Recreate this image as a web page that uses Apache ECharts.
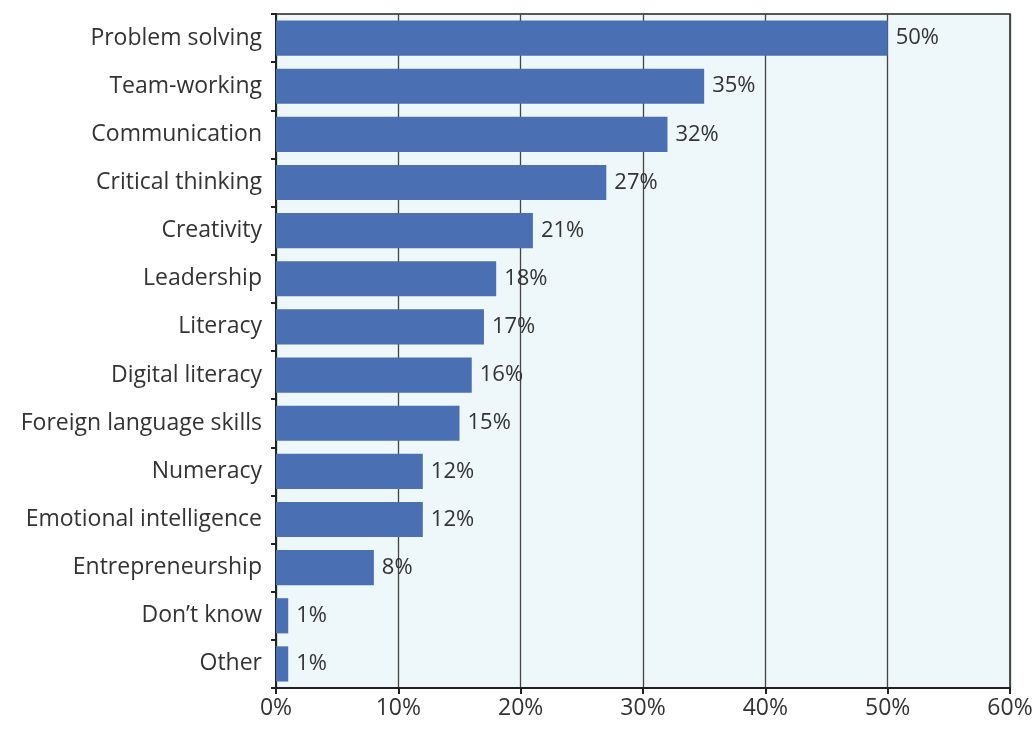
<!DOCTYPE html>
<html>
<head>
<meta charset="utf-8">
<script src="https://cdn.jsdelivr.net/npm/echarts@6/dist/echarts.min.js"></script>
<style>
  html, body { margin: 0; padding: 0; background: #ffffff; }
  #main { width: 1036px; height: 729px; }
</style>
</head>
<body>
<div id="main"></div>
<script>
// skills, top to bottom as shown
var skills = ['Problem solving', 'Team-working', 'Communication', 'Critical thinking',
    'Creativity', 'Leadership', 'Literacy', 'Digital literacy', 'Foreign language skills',
    'Numeracy', 'Emotional intelligence', 'Entrepreneurship', 'Don\u2019t know', 'Other'];
var shares = [50, 35, 32, 27, 21, 18, 17, 16, 15, 12, 12, 8, 1, 1];
var xTicks = [0, 10, 20, 30, 40, 50, 60];

var font = '"Open Sans", Lato, sans-serif';
var myChart = echarts.init(document.getElementById('main'));
var option = {
    backgroundColor: '#ffffff',
    animation: false,
    grid: {
        left: 276, right: 26, top: 14, bottom: 41,
        show: true,
        backgroundColor: '#eef7fa',
        borderColor: '#222222',
        borderWidth: 1.5
    },
    xAxis: {
        type: 'value',
        min: xTicks[0],
        max: xTicks[xTicks.length - 1],
        interval: 10,
        axisLine: { show: true, lineStyle: { color: '#222', width: 2 } },
        axisTick: { show: true, length: 6, lineStyle: { color: '#222', width: 2 } },
        splitLine: { show: true, lineStyle: { color: '#444', width: 1.3 } },
        axisLabel: {
            formatter: '{value}%',
            color: '#333',
            fontFamily: font,
            fontSize: 23,
            margin: 9
        }
    },
    yAxis: {
        type: 'category',
        inverse: true,
        data: skills,
        axisLine: { show: true, lineStyle: { color: '#222', width: 2 } },
        axisTick: { show: true, length: 5, lineStyle: { color: '#222', width: 2 } },
        axisLabel: {
            color: '#333',
            fontFamily: font,
            fontSize: 23,
            margin: 14,
            padding: [4, 0, 0, 0]
        }
    },
    series: [{
        type: 'bar',
        data: shares,
        barCategoryGap: '27%',
        itemStyle: { color: '#4a6fb2' },
        label: {
            show: true,
            position: 'right',
            distance: 8,
            formatter: '{c}%',
            color: '#333',
            fontFamily: font,
            fontSize: 22,
            padding: [3, 0, 0, 0]
        }
    }]
};
myChart.setOption(option);
window.onresize = myChart.resize;
</script>
</body>
</html>
